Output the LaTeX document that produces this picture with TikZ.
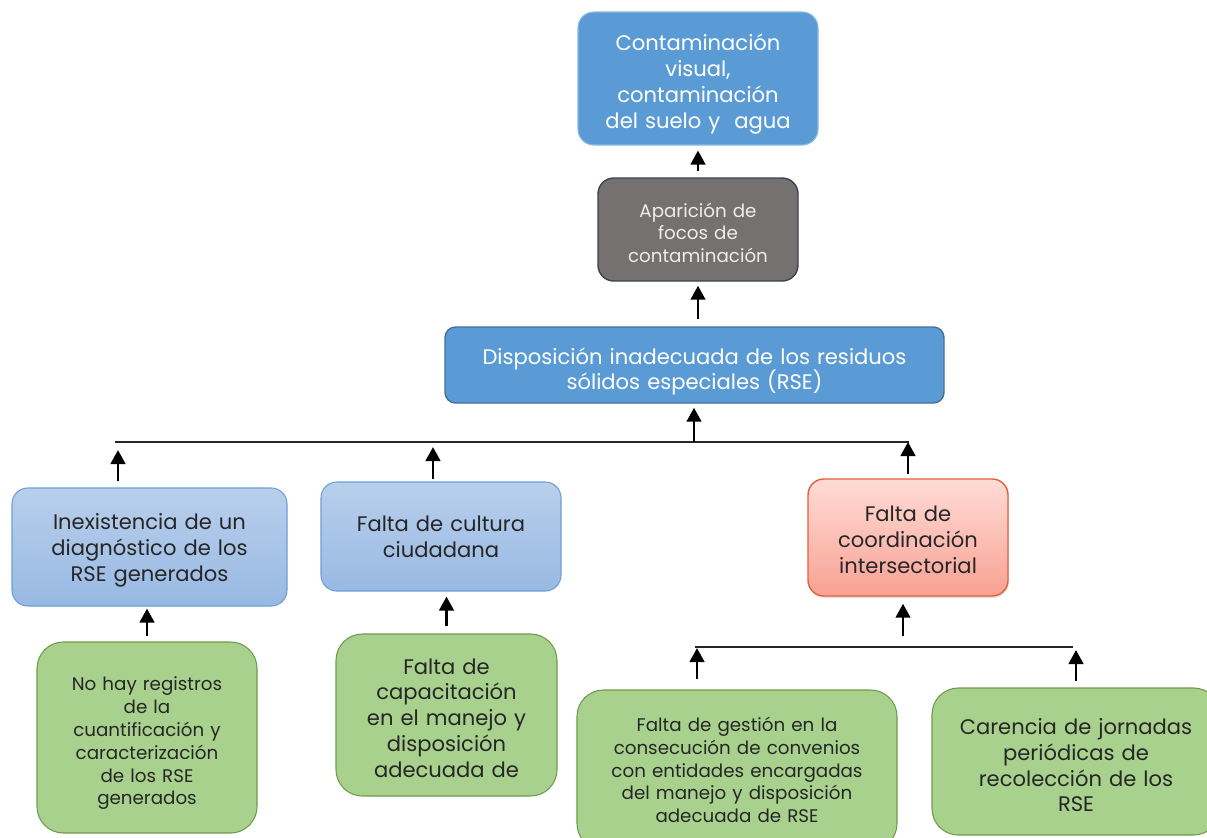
\documentclass[tikz,border=0pt]{standalone}
\usepackage{fontspec}
\setmainfont{Poppins}
\usetikzlibrary{arrows.meta,shadows}
\definecolor{effblue}{HTML}{5B9BD5}
\definecolor{effedge}{HTML}{41719C}
\definecolor{focgray}{HTML}{767171}
\definecolor{focedge}{HTML}{3B4454}
\definecolor{caustop}{HTML}{B9CFEC}
\definecolor{causbot}{HTML}{98B9E3}
\definecolor{causedge}{HTML}{6A9FD8}
\definecolor{redtop}{HTML}{FFDCD6}
\definecolor{redbot}{HTML}{F8A193}
\definecolor{rededge}{HTML}{E4603C}
\definecolor{rootgreen}{HTML}{A9D18E}
\definecolor{rootedge}{HTML}{6E9B4C}
\definecolor{txtdark}{HTML}{262626}
\tikzset{
    tree diagram/.style = {>={Triangle[length=2.8mm, width=2.9mm]}},
    line/.style         = {line width=1.6pt, ->},
    bus/.style          = {semithick, black!85},
    box/.style          = {draw, semithick, align=center, inner sep=2pt,
                           rounded corners=9pt},
    drop/.style         = {execute at begin node={\rule{0pt}{#1}}},
    big/.style          = {font=\fontsize{12}{14.7}\selectfont},
    small/.style        = {font=\fontsize{10.4}{13}\selectfont},
    effect/.style       = {box, fill=effblue, draw=effblue!70!white,
                           text=white, big},
    focus/.style        = {box, fill=focgray, draw=focedge, thick,
                           text=white!93!black, small},
    problem/.style      = {box, fill=effblue, draw=effedge, thick,
                           text=white, rounded corners=6pt, big},
    cause/.style        = {box, top color=caustop, bottom color=causbot,
                           draw=causedge, text=txtdark, big},
    keycause/.style     = {box, top color=redtop, bottom color=redbot,
                           draw=rededge, thick, text=txtdark, big,
                           drop shadow={opacity=0.25, shadow xshift=0.5pt,
                                        shadow yshift=-1pt}},
    root/.style         = {box, fill=rootgreen, draw=rootedge,
                           text=txtdark, rounded corners=15pt}
}

\begin{document}
\begin{tikzpicture}[tree diagram]
\useasboundingbox (0,0) rectangle (24.14,-16.74);

% ================= Effects =================
\node[effect, minimum width=4.8cm, minimum height=2.66cm, text width=4.6cm,
      drop=1.3em] (effect) at (13.96,-1.57)
    {Contaminación\\visual,\\contaminación\\del suelo y\ \ agua};
\node[focus, minimum width=4.0cm, minimum height=2.06cm, text width=3.8cm,
      drop=1.15em] (focos) at (13.96,-4.59)
    {Aparición de\\focos de\\contaminación};

% ================= Central problem =================
\node[problem, minimum width=9.98cm, minimum height=1.52cm, text width=9.6cm,
      drop=1.4em] (problem) at (13.89,-7.30)
    {Disposición inadecuada de los residuos\\sólidos especiales (RSE)};

% ================= Direct causes =================
\node[cause, minimum width=5.5cm, minimum height=2.36cm, text width=5.3cm,
      drop=1.07em] (diag) at (2.99,-10.94)
    {Inexistencia de un\\diagnóstico de los\\RSE generados};
\node[cause, minimum width=4.8cm, minimum height=2.18cm, text width=4.6cm]
    (cultura) at (8.82,-10.73) {Falta de cultura\\ciudadana};
\node[keycause, minimum width=4.0cm, minimum height=2.34cm, text width=3.8cm,
      drop=0.93em] (coord) at (18.16,-10.75)
    {Falta de\\coordinación\\intersectorial};

% ================= Root causes =================
\node[root, small, minimum width=4.4cm, minimum height=3.82cm, text width=4.2cm,
      drop=1.4em] (registros) at (2.94,-14.75)
    {No hay registros\\de la\\cuantificación y\\caracterización\\de los RSE\\generados};
\node[root, big, minimum width=4.42cm, minimum height=3.24cm, text width=4.2cm,
      drop=1.03em] (capacit) at (8.93,-14.30)
    {Falta de\\capacitación\\en el manejo y\\disposición\\adecuada de};
\node[root, small, minimum width=6.4cm, minimum height=3.2cm, text width=6.2cm]
    (gestion) at (14.74,-15.40)
    {Falta de gestión en la\\consecución de convenios\\con entidades encargadas\\del manejo y disposición\\adecuada de RSE};
\node[root, big, minimum width=5.76cm, minimum height=2.94cm, text width=5.5cm,
      drop=1.12em] (carencia) at (21.52,-15.23)
    {Carencia de jornadas\\periódicas de\\recolección de los\\RSE};

% ================= Buses =================
\coordinate (busL)  at (2.30,-8.84);
\coordinate (busR)  at (18.18,-8.84);
\coordinate (busM)  at (13.88,-8.84);
\coordinate (busA)  at (2.36,-8.84);
\coordinate (busB)  at (8.66,-8.84);
\coordinate (busC)  at (18.16,-8.84);
\draw[bus] (busL) -- (busR);

\coordinate (bus2L) at (13.90,-12.94);
\coordinate (bus2R) at (21.46,-12.94);
\coordinate (bus2M) at (18.06,-12.94);
\coordinate (bus2A) at (13.94,-12.94);
\coordinate (bus2B) at (21.52,-12.94);
\draw[bus] (bus2L) -- (bus2R);

% ================= Arrows =================
\draw[line, shorten <=0.12cm, shorten >=0.10cm] (focos.north) -- (effect.south);
\draw[line, shorten <=0.14cm, shorten >=0.08cm] (problem.north -| focos) -- (focos.south);
\draw[line, shorten >=0.08cm] (busM) -- (problem.south -| busM);

\draw[line, shorten <=0.12cm, shorten >=0.16cm] (diag.north -| busA) -- (busA);
\draw[line, shorten <=0.04cm, shorten >=0.10cm] (cultura.north -| busB) -- (busB);
\draw[line, shorten <=0.08cm] (coord.north -| busC) -- (busC);

\draw[line, shorten <=0.10cm, shorten >=0.04cm] (registros.north) -- (diag.south -| registros);
\draw[line, shorten <=0.14cm, shorten >=0.10cm] (capacit.north) -- (cultura.south -| capacit);
\draw[line, shorten <=0.22cm, shorten >=0.14cm] (bus2M) -- (coord.south -| bus2M);
\draw[line, shorten <=0.20cm, shorten >=0.02cm] (gestion.north -| bus2A) -- (bus2A);
\draw[line, shorten <=0.12cm, shorten >=0.06cm] (carencia.north -| bus2B) -- (bus2B);

\end{tikzpicture}
\end{document}
